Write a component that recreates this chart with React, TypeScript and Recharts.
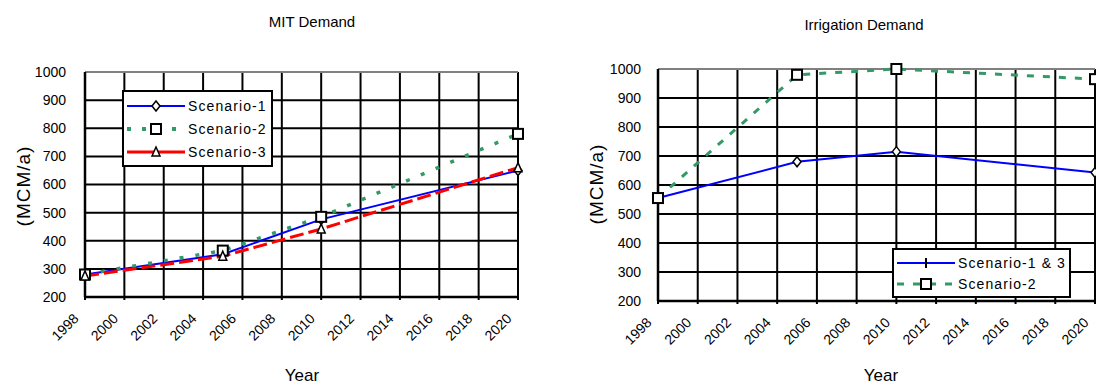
import React from 'react';
import { LineChart, Line, XAxis, YAxis, CartesianGrid, Legend, Customized, ReferenceLine } from 'recharts';

const FONT = '"Liberation Sans", Arial, sans-serif';

const years = [1998, 2005, 2010, 2020];
const xTickYears = [1998, 2000, 2002, 2004, 2006, 2008, 2010, 2012, 2014, 2016, 2018, 2020];
const yTickValues = [200, 300, 400, 500, 600, 700, 800, 900, 1000];

const mitScenario1 = [280, 352, 476, 650];
const mitScenario2 = [280, 365, 485, 780];
const mitScenario3 = [275, 345, 442, 660];

const irrScenario13 = [555, 680, 715, 643];
const irrScenario2 = [555, 980, 1000, 965];

const mitData = years.map((year, i) => ({ year, s1: mitScenario1[i], s2: mitScenario2[i], s3: mitScenario3[i] }));
const irrData = years.map((year, i) => ({ year, s13: irrScenario13[i], s2: irrScenario2[i] }));

const BLUE = '#0000ff';
const GREEN = '#339966';
const RED = '#ff0000';

const diamond = (cx: number, cy: number) => (
  <path d={`M${cx},${cy - 5}L${cx + 4},${cy}L${cx},${cy + 5}L${cx - 4},${cy}Z`} fill="#fff" stroke="#000" strokeWidth={1.5} />
);
const square = (cx: number, cy: number) => (
  <rect x={cx - 5} y={cy - 5} width={10} height={10} fill="#fff" stroke="#000" strokeWidth={2} />
);
const triangle = (cx: number, cy: number) => (
  <path d={`M${cx},${cy - 5}L${cx + 4},${cy + 4}L${cx - 4},${cy + 4}Z`} fill="#fff" stroke="#000" strokeWidth={1.5} />
);
const plusMark = (cx: number, cy: number) => (
  <line x1={cx} x2={cx} y1={cy - 5} y2={cy + 5} stroke="#000" strokeWidth={2} />
);

const makeDot = (fn: (cx: number, cy: number) => React.ReactElement) => (p: any) => {
  if (p.cx == null || p.cy == null) return <g key={p.key} />;
  return <g key={p.key}>{fn(p.cx, p.cy)}</g>;
};

const XTick = (p: any) => {
  const { x, y, payload } = p;
  return (
    <text
      transform={`translate(${x - 9},${y + 16}) rotate(-45)`}
      textAnchor="end"
      dominantBaseline="central"
      fontSize={14}
      fontFamily={FONT}
      fill="#000"
    >
      {payload.value}
    </text>
  );
};

type Item = { color: string; dash?: string; width: number; marker: (cx: number, cy: number) => React.ReactElement; label: string };

const LegendBox = ({ items, w, h }: { items: Item[]; w: number; h: number }) => (
  <div
    style={{
      border: '2px solid #000',
      background: '#fff',
      width: w,
      height: h,
      boxSizing: 'border-box',
      padding: '2px 3px',
      fontFamily: FONT,
      fontSize: 14,
      color: '#000',
    }}
  >
    {items.map((it) => (
      <div key={it.label} style={{ display: 'flex', alignItems: 'center', height: (h - 8) / items.length }}>
        <svg width={58} height={14} style={{ flex: 'none' }}>
          <line x1={0} x2={58} y1={7} y2={7} stroke={it.color} strokeWidth={it.width} strokeDasharray={it.dash} />
          {it.marker(29, 7)}
        </svg>
        <span style={{ marginLeft: 3, letterSpacing: 1.1, whiteSpace: 'nowrap' }}>{it.label}</span>
      </div>
    ))}
  </div>
);

const mitItems: Item[] = [
  { color: BLUE, width: 2, marker: diamond, label: 'Scenario-1' },
  { color: GREEN, width: 4, dash: '4 11', marker: square, label: 'Scenario-2' },
  { color: RED, width: 3, marker: triangle, label: 'Scenario-3' },
];
const irrItems: Item[] = [
  { color: BLUE, width: 2, marker: plusMark, label: 'Scenario-1 & 3' },
  { color: GREEN, width: 3, dash: '7 9', marker: square, label: 'Scenario-2' },
];

const axisLine = { stroke: '#000', strokeWidth: 2.5 };
const yTick = { fontSize: 14, fill: '#000', fontFamily: FONT };

const Texts = ({ title, titleX, titleY, yLabelX, yLabelY, yearX }: any) => (
  <g fontFamily={FONT} fill="#000">
    <text x={titleX} y={titleY} textAnchor="middle" fontSize={15} fill="#000">{title}</text>
    <text transform={`translate(${yLabelX},${yLabelY}) rotate(-90)`} textAnchor="middle" dominantBaseline="central" fontSize={19} letterSpacing={1} fill="#000">(MCM/a)</text>
    <text x={yearX} y={381} textAnchor="middle" fontSize={17} fill="#000">Year</text>
  </g>
);

export default function App() {
  return (
    <div style={{ position: 'absolute', left: 0, top: 0, width: 1096, height: 385, overflow: 'hidden', background: '#fff' }}>
      <div style={{ position: 'absolute', left: 0, top: 0 }}>
        <LineChart width={548} height={385} data={mitData} margin={{ top: 72, right: 30, bottom: 28, left: 25 }}>
          <CartesianGrid stroke="#000" strokeWidth={2} />
          <XAxis
            type="number"
            dataKey="year"
            domain={[1998, 2020]}
            ticks={xTickYears}
            interval={0}
            height={60}
            axisLine={axisLine}
            tickLine={{ stroke: '#000', strokeWidth: 2 }}
            tickSize={3}
            tickMargin={0}
            tick={<XTick />}
          />
          <YAxis
            type="number"
            domain={[200, 1000]}
            ticks={yTickValues}
            interval={0}
            width={60}
            axisLine={axisLine}
            tickLine={false}
            tickSize={0}
            tickMargin={19}
            tick={yTick}
          />
          <ReferenceLine y={1000} stroke="#808080" strokeWidth={2} />
          <Line type="linear" dataKey="s1" stroke={BLUE} strokeWidth={2} dot={makeDot(diamond)} isAnimationActive={false} />
          <Line type="linear" dataKey="s2" stroke={GREEN} strokeWidth={3.5} strokeDasharray="4 12" dot={makeDot(square)} isAnimationActive={false} />
          <Line type="linear" dataKey="s3" stroke={RED} strokeWidth={3} strokeDasharray="14 5" dot={makeDot(triangle)} isAnimationActive={false} />
          <Legend
            layout="horizontal"
            verticalAlign="middle"
            align="center"
            wrapperStyle={{ left: 122, top: 90, width: 151, height: 77 }}
            content={() => <LegendBox items={mitItems} w={151} h={77} />}
          />
          <Customized component={() => <Texts title="MIT Demand" titleX={312} titleY={27} yLabelX={23} yLabelY={186} yearX={302} />} />
        </LineChart>
      </div>
      <div style={{ position: 'absolute', left: 548, top: 0 }}>
        <LineChart width={560} height={385} data={irrData} margin={{ top: 69, right: 13, bottom: 28, left: 50 }}>
          <CartesianGrid stroke="#000" strokeWidth={2} />
          <XAxis
            type="number"
            dataKey="year"
            domain={[1998, 2020]}
            ticks={xTickYears}
            interval={0}
            height={56}
            axisLine={axisLine}
            tickLine={{ stroke: '#000', strokeWidth: 2 }}
            tickSize={3}
            tickMargin={0}
            tick={<XTick />}
          />
          <YAxis
            type="number"
            domain={[200, 1000]}
            ticks={yTickValues}
            interval={0}
            width={60}
            axisLine={axisLine}
            tickLine={false}
            tickSize={0}
            tickMargin={17}
            tick={yTick}
          />
          <ReferenceLine y={1000} stroke="#808080" strokeWidth={2} />
          <Line type="linear" dataKey="s13" stroke={BLUE} strokeWidth={2} dot={makeDot(diamond)} isAnimationActive={false} />
          <Line type="linear" dataKey="s2" stroke={GREEN} strokeWidth={3} strokeDasharray="7 9" dot={makeDot(square)} isAnimationActive={false} />
          <Legend
            layout="horizontal"
            verticalAlign="middle"
            align="center"
            wrapperStyle={{ left: 344, top: 248, width: 179, height: 50 }}
            content={() => <LegendBox items={irrItems} w={179} h={50} />}
          />
          <Customized component={() => <Texts title="Irrigation Demand" titleX={316} titleY={30} yLabelX={48} yLabelY={184} yearX={333} />} />
        </LineChart>
      </div>
    </div>
  );
}
